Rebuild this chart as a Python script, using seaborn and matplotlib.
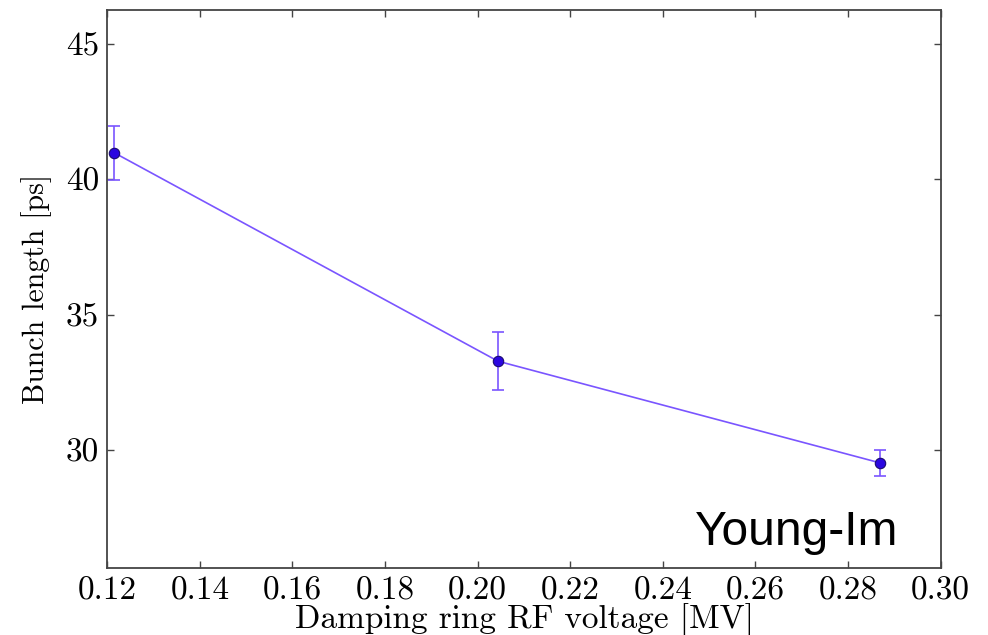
import matplotlib
matplotlib.use("Agg")
import matplotlib.pyplot as plt
import seaborn as sns
import pandas as pd

# data
voltage = [0.1215, 0.2044, 0.2869]
bunch_length = [40.97, 33.28, 29.53]
bunch_err = [1.0, 1.07, 0.48]
x_ticks = [0.12, 0.14, 0.16, 0.18, 0.20, 0.22, 0.24, 0.26, 0.28, 0.30]
x_tick_labels = ["0.12", "0.14", "0.16", "0.18", "0.20", "0.22", "0.24", "0.26", "0.28", "0.30"]
y_ticks = [30, 35, 40, 45]
x_label = "Damping ring RF voltage [MV]"
y_label = "Bunch length [ps]"
annotation = "Young-Im"

sns.set_style("ticks")
plt.rcParams["font.family"] = ["cmr10", "DejaVu Serif"]
plt.rcParams["axes.formatter.use_mathtext"] = True
plt.rcParams["text.color"] = "black"
plt.rcParams["axes.labelcolor"] = "black"
plt.rcParams["xtick.labelcolor"] = "black"
plt.rcParams["ytick.labelcolor"] = "black"

df = pd.DataFrame({"voltage": voltage, "length": bunch_length, "err": bunch_err})

fig = plt.figure(figsize=(9.88, 6.35), dpi=100)
ax = fig.add_axes([0.1086, 0.105, 0.8435, 0.879])

line_color = "#7a55ff"
ax.errorbar(df["voltage"], df["length"], yerr=df["err"], fmt="none",
            ecolor=line_color, elinewidth=1.2, capsize=4, capthick=1.2, zorder=2)
sns.lineplot(data=df, x="voltage", y="length", ax=ax, color=line_color,
             linewidth=1.2, marker="o", markersize=7.5, markerfacecolor="#2a06e0",
             markeredgecolor="#1a0a70", markeredgewidth=0.8, zorder=3)

ax.set_xlim(0.12, 0.30)
ax.set_ylim(25.64, 46.23)
ax.set_xticks(x_ticks)
ax.set_xticklabels(x_tick_labels)
ax.set_yticks(y_ticks)
ax.set_yticklabels([str(v) for v in y_ticks])

ax.tick_params(axis="both", which="major", direction="in", length=5, width=1,
               color="#444444", labelsize=24, labelcolor="black",
               top=True, right=True, pad=6)
for s in ax.spines.values():
    s.set_visible(True)
    s.set_color("#444444")
    s.set_linewidth(1.3)

ax.set_xlabel(x_label, fontsize=24, labelpad=-2, color="black")
ax.set_ylabel(y_label, fontsize=21.5, labelpad=10, color="black")

ax.text(0.949, 0.042, annotation, transform=ax.transAxes, ha="right", va="baseline",
        fontsize=34.5, family=["Liberation Sans", "DejaVu Sans"], color="black")

fig.savefig("out.png", dpi=100)
